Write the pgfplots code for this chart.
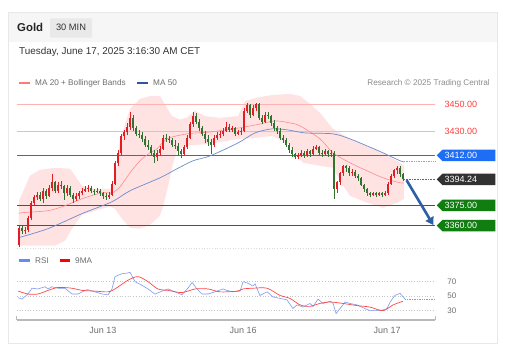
\documentclass[border=0pt]{standalone}
\usepackage{fontspec}
\setmainfont{Liberation Sans}
\usepackage{pgfplots}
\pgfplotsset{compat=1.18}
\usepackage{pgfplotstable}
\usetikzlibrary{arrows.meta,shapes.symbols}
\definecolor{BandPink}{RGB}{255,226,226}
\definecolor{MaTwenty}{RGB}{255,140,140}
\definecolor{MaFifty}{RGB}{110,140,205}
\definecolor{CandleUp}{RGB}{225,30,35}
\definecolor{CandleDn}{RGB}{50,115,50}
\definecolor{LevelRed}{RGB}{255,178,178}
\definecolor{TextRed}{RGB}{255,60,60}
\definecolor{BoxBlue}{RGB}{30,110,245}
\definecolor{BoxDark}{RGB}{50,50,50}
\definecolor{BoxGreen}{RGB}{15,125,15}
\definecolor{ArrowBlue}{RGB}{45,95,165}
\definecolor{RsiBlue}{RGB}{125,155,240}
\definecolor{RsiRed}{RGB}{255,70,70}
\definecolor{TxtGrey}{RGB}{110,110,110}
\definecolor{SwTwenty}{RGB}{250,125,125}
\definecolor{SwFifty}{RGB}{45,85,165}
\definecolor{SwRsi}{RGB}{100,140,240}
\newcommand{\fs}[1]{\fontsize{#1}{#1}\selectfont}
\newcommand{\pbox}[3]{%
  \node[signal, signal to=west, signal pointer angle=90, fill=#2, draw=none, minimum height=11.6pt, minimum width=58.5pt, inner sep=0pt, anchor=west] at (axis cs:139.17,#1) {};
  \node[anchor=west, inner sep=0pt, text=white, font={\fs{9}}] at ([xshift=8pt]axis cs:139.17,#1) {#3};}
% rising candles (close above open)
\pgfplotstableread{
x o h l c
0 3346 3360 3344 3358
2 3356 3359 3354 3357
3 3357 3367 3355 3366
4 3366 3378 3364 3377
5 3377 3383 3375 3381
6 3381 3385 3379 3383
8 3380 3388 3377 3386
10 3382 3390 3381 3388
11 3388 3398 3386 3392
13 3386 3392 3384 3390
16 3384 3390 3382 3388
19 3380 3384 3378 3382
20 3382 3386 3380 3384
21 3384 3388 3383 3386
22 3386 3389 3385 3387
23 3387 3390 3385 3388
26 3385 3388 3384 3386
30 3381 3385 3380 3383
31 3383 3393 3382 3391
32 3391 3408 3390 3406
33 3406 3416 3404 3414
34 3414 3428 3412 3426
35 3426 3431 3423 3429
36 3429 3436 3427 3433
37 3433 3444 3431 3440
46 3411 3416 3408 3414
47 3414 3419 3412 3417
48 3417 3427 3416 3425
55 3413 3420 3412 3418
56 3418 3427 3417 3425
57 3425 3437 3424 3435
58 3435 3444 3433 3441
65 3420 3427 3418 3425
66 3425 3429 3423 3427
67 3427 3430 3425 3428
68 3428 3432 3426 3430
69 3430 3437 3429 3433
71 3431 3434 3429 3432
73 3428 3431 3427 3429
74 3429 3432 3427 3430
75 3430 3447 3429 3445
76 3445 3451 3443 3449
78 3442 3449 3441 3447
79 3447 3451 3445 3450
82 3437 3444 3436 3442
93 3411 3414 3409 3412
94 3412 3416 3411 3414
96 3412 3417 3411 3415
98 3413 3419 3412 3417
99 3417 3420 3416 3418
102 3413 3417 3412 3415
104 3413 3416 3411 3414
106 3387 3393 3384 3392
107 3392 3400 3390 3399
108 3399 3405 3397 3404
111 3399 3402 3397 3400
118 3383 3385 3382 3384
120 3383 3385 3382 3384
122 3383 3386 3382 3384
123 3384 3392 3383 3391
124 3391 3398 3390 3397
125 3397 3402 3395 3401
126 3401 3404 3398 3403
}\upcandles
% falling candles (close below open)
\pgfplotstableread{
x o h l c
1 3358 3360 3354 3356
7 3383 3385 3378 3380
9 3386 3387 3380 3382
12 3392 3393 3384 3386
14 3390 3393 3387 3389
15 3389 3390 3379 3384
17 3388 3389 3381 3383
18 3383 3384 3377 3380
24 3388 3389 3384 3386
25 3386 3387 3383 3385
27 3386 3387 3382 3384
28 3384 3385 3380 3382
29 3382 3384 3379 3381
38 3440 3442 3430 3432
39 3432 3434 3426 3428
40 3428 3431 3425 3427
41 3427 3429 3422 3424
42 3424 3426 3418 3420
43 3420 3423 3416 3418
44 3418 3420 3412 3414
45 3414 3416 3406 3411
49 3425 3428 3422 3424
50 3424 3426 3421 3423
51 3423 3425 3418 3420
52 3420 3423 3417 3419
53 3419 3421 3412 3415
54 3415 3417 3410 3413
59 3441 3443 3435 3437
60 3437 3439 3430 3432
61 3432 3434 3426 3428
62 3428 3430 3421 3424
63 3424 3427 3419 3422
64 3422 3424 3413 3420
70 3433 3435 3429 3431
72 3432 3433 3426 3428
77 3449 3450 3440 3442
80 3450 3451 3438 3440
81 3440 3442 3435 3437
83 3442 3444 3439 3441
84 3441 3442 3434 3436
85 3436 3438 3430 3432
86 3432 3434 3428 3430
87 3430 3432 3423 3425
88 3425 3427 3421 3423
89 3423 3425 3418 3420
90 3420 3421 3414 3416
91 3416 3418 3411 3413
92 3413 3414 3409 3411
95 3414 3415 3410 3412
97 3415 3416 3411 3413
100 3418 3419 3412 3414
101 3414 3416 3411 3413
103 3415 3416 3411 3413
105 3414 3415 3380 3387
109 3404 3405 3400 3403
110 3403 3404 3397 3399
112 3400 3401 3395 3397
113 3397 3398 3393 3395
114 3395 3396 3389 3390
115 3390 3391 3385 3387
116 3387 3388 3382 3384
117 3384 3385 3381 3383
119 3384 3385 3381 3383
121 3384 3385 3381 3383
127 3403 3404 3396 3398
128 3398 3399 3393 3394.24
}\dncandles
\begin{document}
\begin{tikzpicture}
\fill[white] (0pt,0pt) rectangle (511pt,358pt);
\fill[gray!7] (8pt,316pt) rectangle (497pt,346pt);
\draw[gray!18, line width=0.6pt] (8pt,15pt) rectangle (497pt,346pt);
\fill[gray!17, rounded corners=1pt] (50pt,320.3pt) rectangle (92pt,339.7pt);
\node[anchor=west, inner sep=0pt, text=black!85] at (17pt,330.8pt) {\fs{11.4}\bfseries Gold};
\node[inner sep=0pt, text=black!80] at (71pt,330.5pt) {\fs{9.3}30 MIN};
\node[anchor=west, inner sep=0pt, text=black!80] at (19pt,306.3pt) {\fs{9.9}Tuesday, June 17, 2025 3:16:30 AM CET};
% legend main
\fill[SwTwenty] (19pt,273.6pt) rectangle (29.5pt,276.4pt);
\node[anchor=west, inner sep=0pt, text=TxtGrey] at (35pt,275pt) {\fs{8.2}MA 20 + Bollinger Bands};
\fill[SwFifty] (137pt,273.6pt) rectangle (147.5pt,276.4pt);
\node[anchor=west, inner sep=0pt, text=TxtGrey] at (153pt,275pt) {\fs{8.2}MA 50};
\node[anchor=east, inner sep=0pt, text=black!45] at (490pt,275pt) {\fs{8.2}Research © 2025 Trading Central};
% legend rsi
\fill[SwRsi] (19pt,96.2pt) rectangle (30pt,98.8pt);
\node[anchor=west, inner sep=0pt, text=TxtGrey] at (35pt,97.3pt) {\fs{8.2}RSI};
\fill[red] (59.5pt,96.2pt) rectangle (70pt,98.8pt);
\node[anchor=west, inner sep=0pt, text=TxtGrey] at (75pt,97.3pt) {\fs{8.2}9MA};

\begin{axis}[
  at={(17pt,110pt)}, anchor=south west,
  width=418pt, height=160pt, scale only axis,
  xmin=-0.6667, xmax=138.6667, ymin=3343.49, ymax=3461.83,
  hide axis, clip=false,
]
% Bollinger band: upper edge forward, lower edge backward
\addplot[fill=BandPink, draw=none] coordinates {
(0,3378.4) (3.67,3396.9) (7,3401.3) (12,3402.8) (17,3402.1) (21,3389.5) (25.33,3387.3) (30.33,3387.3) (31.33,3388.8) (32.67,3404.3) (33.67,3422.7) (35.5,3436) (37,3446.3) (40.33,3453.7) (43.67,3455.9) (47,3455.9) (49.33,3447.0) (51,3441) (53.67,3438.5) (56,3440) (58.67,3445) (62,3441) (67,3439.7) (73,3441.1) (75.33,3452.2) (78.67,3454.4) (84.33,3456.6) (90.33,3457.4) (93.67,3455.9) (97,3450) (100.33,3443.4) (104.67,3431.6) (110.33,3424.2) (116,3419.0) (121.33,3413.9) (127,3406.5) (128.33,3404.3)
(128.33,3379.9) (126,3377.0) (121.33,3373.3) (116,3377.0) (110.33,3382.1) (107,3393.2) (104.67,3402.8) (100.33,3404.3) (94.67,3406.5) (92,3414) (89.67,3421.2) (84.33,3426.4) (78.67,3424.9) (73,3424.2) (63.67,3420.5) (55.33,3419.0) (52.67,3415.3) (51.33,3405.7) (49.33,3385.8) (48,3374) (47,3367.4) (43.67,3360.7) (40.33,3357.8) (37,3358.5) (34.33,3365.2) (32,3372.5) (30.33,3374.0) (25.33,3371.1) (21,3368.1) (17.67,3357.8) (15.33,3348.9) (12,3345.2) (3.67,3345.2) (0,3345.2)} -- cycle;
% horizontal levels (red)
\addplot[draw=LevelRed, line width=0.8pt] coordinates {(-0.6667,3450) (138.6667,3450)};
\addplot[draw=LevelRed, line width=0.8pt] coordinates {(-0.6667,3430) (138.6667,3430)};
% blue and green levels as thin filled strips
\addplot[fill=BoxBlue, draw=none] coordinates {(-0.6667,3411.74) (138.6667,3411.74) (138.6667,3412.26) (-0.6667,3412.26)} -- cycle;
\addplot[fill=BoxGreen, draw=none] coordinates {(-0.6667,3374.45) (138.6667,3374.45) (138.6667,3375.55) (-0.6667,3375.55)} -- cycle;
\addplot[fill=BoxGreen, draw=none] coordinates {(-0.6667,3359.45) (138.6667,3359.45) (138.6667,3360.55) (-0.6667,3360.55)} -- cycle;
\addplot[draw=gray!30, dotted, line width=0.6pt] coordinates {(-0.6667,3343.49) (138.6667,3343.49)};
% moving averages
\addplot[draw=MaTwenty, line width=0.6pt, smooth] coordinates {
(0,3368.9) (1,3369.6) (9.67,3371.1) (15.33,3374.8) (21,3379.9) (27.67,3384.3) (31,3384.3) (33.67,3388.8) (37,3399.1) (40.33,3408.0) (43.67,3413.9) (46,3416.8) (49.33,3424.2) (56,3427.9) (63.67,3429.3) (71.33,3431.6) (75.33,3433.0) (80.33,3435.2) (85.33,3437.5) (90.33,3436.0) (93.67,3433.8) (100.33,3424.2) (104.67,3413.9) (110.33,3406.5) (116,3400.6) (121.33,3395.4) (127,3391.7) (128.33,3391.7)};
\addplot[draw=MaFifty, line width=0.7pt, smooth] coordinates {
(0,3351.2) (9.67,3357.8) (21,3368.9) (31,3377.7) (37,3385.8) (47,3395.4) (52.67,3402.1) (58,3408.0) (63.67,3411.6) (73,3421.2) (78.67,3428.6) (84.33,3431.6) (89.67,3430.8) (95.33,3428.6) (104.67,3427.9) (110.33,3424.2) (116,3419.0) (121.33,3413.9) (127,3408.0) (128.33,3407.2)};
% candles: wicks and bodies as vector segments
\addplot[draw=CandleUp, line width=0.45pt, quiver={u=0, v=\thisrow{h}-\thisrow{l}}] table[x=x, y=l] {\upcandles};
\addplot[draw=CandleUp, line width=1.9pt, quiver={u=0, v=\thisrow{c}-\thisrow{o}}] table[x=x, y=o] {\upcandles};
\addplot[draw=CandleDn, line width=0.45pt, quiver={u=0, v=\thisrow{h}-\thisrow{l}}] table[x=x, y=l] {\dncandles};
\addplot[draw=CandleDn, line width=1.9pt, quiver={u=0, v=\thisrow{c}-\thisrow{o}}] table[x=x, y=o] {\dncandles};
% extensions
\addplot[draw=MaFifty!80, densely dotted, line width=0.7pt] coordinates {(128.33,3407.5) (138.6667,3407.5)};
\addplot[draw=black!60, densely dotted, line width=0.6pt] coordinates {(128.33,3394.24) (138.6667,3394.24)};
% labels
\node[anchor=west, inner sep=0pt, text=TextRed, font={\fs{9}}] at (axis cs:141.8,3450) {3450.00};
\node[anchor=west, inner sep=0pt, text=TextRed, font={\fs{9}}] at (axis cs:141.8,3430) {3430.00};
\pbox{3412}{BoxBlue}{3412.00}
\pbox{3394.24}{BoxDark}{3394.24}
\pbox{3375}{BoxGreen}{3375.00}
\pbox{3360}{BoxGreen}{3360.00}
% arrow
\addplot[draw=ArrowBlue, fill=ArrowBlue, line width=2.6pt, -{Triangle[length=7.5pt,width=9pt]}] coordinates {(129.2,3393.6) (138.1,3360.5)};
\end{axis}

\begin{axis}[
  at={(17pt,38pt)}, anchor=south west,
  width=418pt, height=52pt, scale only axis,
  xmin=-0.6667, xmax=138.6667, ymin=17.17, ymax=88.9,
  axis x line*=bottom, axis y line=none, ytick=\empty, clip=false,
  x axis line style={draw=gray!55, line width=1.4pt},
  xtick={28,74.67,122.67}, xticklabels={Jun 13,Jun 16,Jun 17},
  major tick length=0pt,
  xticklabel style={font={\fs{9}}, text=TxtGrey, anchor=center, yshift=-10.5pt},
]
\addplot[draw=gray!45, dotted, line width=0.7pt] coordinates {(-0.6667,70) (138.6667,70)};
\addplot[draw=gray!45, dotted, line width=0.7pt] coordinates {(-0.6667,50) (138.6667,50)};
\addplot[draw=gray!45, dotted, line width=0.7pt] coordinates {(-0.6667,30) (138.6667,30)};
\addplot[draw=RsiBlue, line width=0.6pt] coordinates {
(-0.3,48) (1,46) (3,53) (4.3,61) (6.3,60) (8.7,63) (9.7,60) (11,63) (13,61) (15.3,61) (17.7,53) (19.7,53) (22,58) (23,59) (25.3,56) (27.7,53) (29.7,52) (31,60) (32,77) (34.3,81) (36.3,82) (37,83) (38.7,70) (41,65) (43,60) (45.3,53) (47.7,57) (49.7,60) (52,56) (54.3,52) (56.3,61) (57.7,69) (59.3,60) (61,53) (63,53) (65.3,56) (68,60) (69.3,58) (71.3,56) (73.7,57) (74.7,70) (76.3,68) (78,64) (78.7,67) (80.3,51) (82.7,56) (84.7,49) (87,47) (89.3,45) (91.3,33) (92.7,38) (94.7,35) (97,40) (98,36) (99.7,46) (101.3,40) (103.7,43) (104.7,40) (105.7,26) (107,33) (108.7,42) (110.3,40) (112.7,38) (114.7,34) (117,30) (119.3,30) (121.3,31) (122.7,33) (123.7,42) (125.3,51) (127,54) (128.7,46)};
\addplot[draw=RsiBlue, densely dotted, line width=0.7pt] coordinates {(128.7,46) (138.6667,46)};
\addplot[draw=RsiRed, line width=0.7pt, smooth] coordinates {
(-0.3,57) (3,53) (6.3,53) (9.7,58) (13,62) (17.7,61) (21,58) (25.3,57) (29.7,56) (32,60) (36.3,72) (39.7,77) (43,70) (46.3,60) (49.7,58) (54.3,55) (58.7,60) (63,60) (67,56) (72.7,57) (74.7,60) (78,61) (82.7,61) (87,51) (90.3,47) (93.7,38) (97,36) (100.3,40) (103.7,42) (108,40) (112.7,37) (117,35) (121.3,30) (124.7,38) (128,43)};
\draw[gray!55, line width=1pt] (axis cs:-0.6667,17.17) -- ++(0pt,4pt);
\draw[gray!55, line width=1pt] (axis cs:138.6667,17.17) -- ++(0pt,4pt);
\node[anchor=west, inner sep=0pt, text=TxtGrey, font={\fs{8}}] at (axis cs:142.7,70) {70};
\node[anchor=west, inner sep=0pt, text=TxtGrey, font={\fs{8}}] at (axis cs:142.7,50) {50};
\node[anchor=west, inner sep=0pt, text=TxtGrey, font={\fs{8}}] at (axis cs:142.7,30) {30};
\end{axis}
\end{tikzpicture}
\end{document}
